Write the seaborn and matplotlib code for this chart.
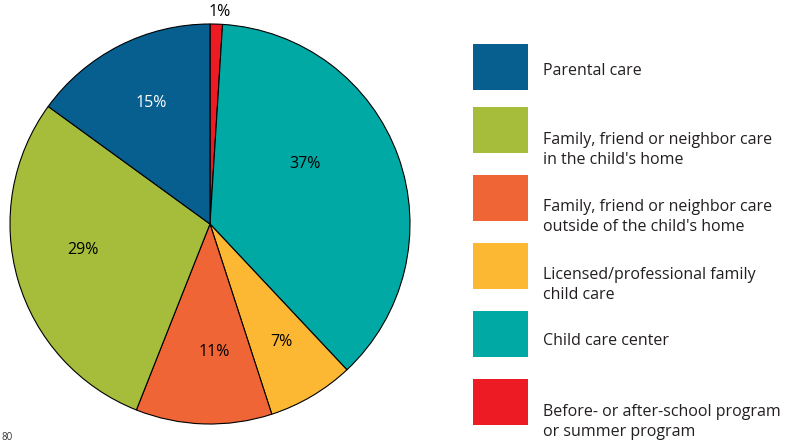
import matplotlib.pyplot as plt
import seaborn as sns
from matplotlib.patches import Rectangle

# data, clockwise from 12 o'clock
categories = ['Before- or after-school program\nor summer program',
              'Child care center',
              'Licensed/professional family\nchild care',
              "Family, friend or neighbor care\noutside of the child's home",
              "Family, friend or neighbor care\nin the child's home",
              'Parental care']
shares = [1, 37, 7, 11, 29, 15]
colors = ['#ed1c24', '#00a9a4', '#fcb833', '#f06535', '#a6bd3b', '#075f90']

# legend order (top to bottom)
legend_order = [5, 4, 3, 2, 1, 0]

# label positions in pie data units (radius = 1)
label_pos = [(0.05, 1.06), (0.475, 0.30), (0.355, -0.59), (0.02, -0.64), (-0.635, -0.13), (-0.295, 0.605)]
label_col = ['black', 'black', 'black', 'black', 'black', 'white']

sns.set_theme(style='white')
plt.rcParams['font.family'] = ['Open Sans', 'DejaVu Sans']

fig = plt.figure(figsize=(7.88, 4.44), dpi=100)

# pie
ax = fig.add_axes([10/788, 20/444, 400/788, 400/444])
ax.pie(shares, colors=colors, startangle=90, counterclock=False, radius=1,
       wedgeprops=dict(edgecolor='black', linewidth=0.8))
ax.set_xlim(-1, 1)
ax.set_ylim(-1, 1)
ax.set_aspect('equal')
for s, (x, y), c in zip(shares, label_pos, label_col):
    ax.text(x, y, f'{s}%', ha='center', va='center', fontsize=11.5, color=c, clip_on=False)

# legend, drawn in pixel space
lax = fig.add_axes([0, 0, 1, 1])
lax.set_xlim(0, 788)
lax.set_ylim(444, 0)
lax.axis('off')
box_tops = [44, 107, 175, 243, 311, 379]
text_y = [71, 150, 217, 285, 341, 422]
for i, top, ty in zip(legend_order, box_tops, text_y):
    lax.add_patch(Rectangle((473, top), 55, 46, color=colors[i], lw=0))
    lax.text(543, ty, categories[i], ha='left', va='center', fontsize=11.5,
             color='#231f20', linespacing=1.4)

# stray page number at the bottom edge
lax.text(1, 443, '80', ha='left', va='bottom', fontsize=7, color='#333333')

fig.savefig('out.png', dpi=100)
